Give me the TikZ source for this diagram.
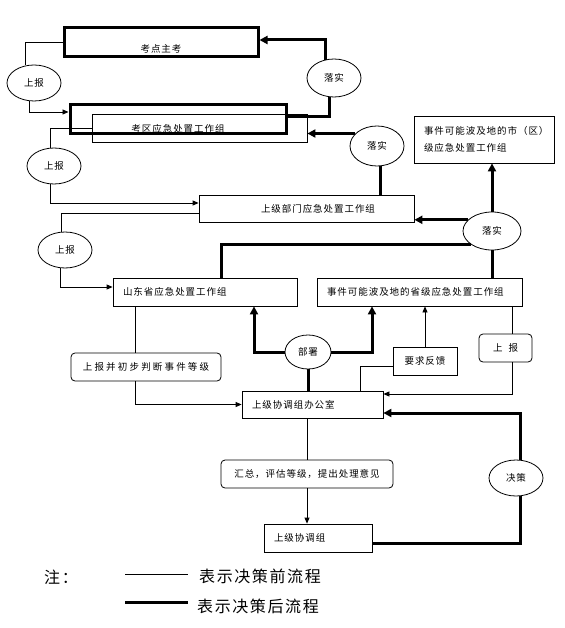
\documentclass[tikz,border=0pt]{standalone}
\usepackage{fontspec}
\newfontfamily\cjk{Noto Sans CJK SC}[LetterSpace=10]
\newfontfamily\cjkwide{Noto Sans CJK SC}[LetterSpace=23]
\usepackage{tikz}
\usetikzlibrary{arrows, arrows.meta}
\usetikzlibrary{shapes,calc}
\tikzstyle{thinline}=[line width=0.8pt]
\tikzstyle{thickline}=[line width=3pt]
\tikzstyle{thinarrow}=[thinline, arrows={-{Triangle[length=6pt,width=5pt]}}]
\tikzstyle{thickarrow}=[thickline, arrows={-{Triangle[length=8pt,width=8pt]}}]
\tikzstyle{plainbox}=[draw, thinline, rectangle, inner xsep=10pt, inner ysep=0pt, align=left, font=\cjk\fontsize{9.5}{11}\selectfont]
\tikzstyle{roundbox}=[plainbox, rounded corners=4pt, align=center]
\tikzstyle{thickbox}=[draw, thickline, rectangle, inner sep=0pt, font=\cjk\fontsize{9.5}{11}\selectfont]
\tikzstyle{oval}=[draw, thinline, ellipse, inner sep=0pt, minimum width=54pt, minimum height=36pt, font=\cjk\fontsize{9.5}{11}\selectfont]

\begin{document}
\begin{tikzpicture}[x=1pt, y=-1pt]
  \useasboundingbox (0,0) rectangle (564,628);

  %%%%%%%% top: exam level %%%%%%%%
  \node[thickbox, minimum width=194pt, text height=25pt, text depth=4pt] (kdzk) at (161,42.5) {考点主考};
  \node[thickbox, minimum width=216pt, text height=28pt, text depth=1pt] (kqzz) at (178,119.5) {考区应急处置工作组};
  \node[plainbox, minimum width=215pt, minimum height=28pt] (kqthin) at (199.5,128) {};

  \node[oval] (sb1) at (34,83) {上报};
  \node[oval] (sb2) at (54,166) {上报};
  \node[oval] (sb3) at (65,250) {上报};

  \node[oval, minimum height=38pt] (ls1) at (334,78) {落实};
  \node[oval, minimum height=40pt] (ls2) at (377,146) {落实};
  \node[oval, minimum width=58pt, minimum height=38pt] (ls3) at (492,231) {落实};

  \node[plainbox, text width=120pt, minimum height=47pt, font=\cjk\fontsize{9.5}{17}\selectfont] (shiqu) at (484,139.5) {事件可能波及地的市（区）\\级应急处置工作组};
  \node[plainbox, text width=195pt, minimum height=27pt] (sjbm) at (306.5,208.5) {\hspace*{52pt}上级部门应急处置工作组};

  %%%%%%%% province level %%%%%%%%
  \node[plainbox, text width=164pt, minimum height=28pt] (sds) at (205,292) {山东省应急处置工作组};
  \node[plainbox, text width=185pt, minimum height=28pt] (sj) at (419.5,292) {事件可能波及地的省级应急处置工作组};

  \node[roundbox, text width=130pt, minimum height=28pt, font=\cjkwide\fontsize{9.5}{11}\selectfont] (pd) at (146,367) {上报并初步判断事件等级};
  \node[oval, minimum width=46pt, minimum height=34pt] (bs) at (308,352) {部署};
  \node[plainbox, align=center, text width=44pt, minimum height=28pt] (fk) at (425,361) {要求反馈};
  \node[roundbox, text width=33pt, minimum height=28pt] (sb4) at (505.5,348) {上\hspace{6pt}报};

  %%%%%%%% coordination %%%%%%%%
  \node[plainbox, text width=121pt, minimum height=27pt] (bgs) at (312.5,404.5) {上级协调组办公室};
  \node[roundbox, text width=152pt, minimum height=28pt] (hz) at (307,474) {汇总，评估等级，提出处理意见};
  \node[plainbox, text width=88pt, minimum height=28pt] (xtz) at (318,538) {上级协调组};
  \node[oval] (jc) at (516,478) {决策};

  % before decision
  \draw[thinline] (kdzk.west) -| (sb1.115);
  \draw[thinarrow] (sb1.255) |- ([yshift=7.5pt]kqzz.west);
  \draw[thinline] (kqthin.west) -| (sb2.101);
  \draw[thinarrow] (sb2.259) |- ([yshift=5.5pt]sjbm.west);
  \draw[thinline] ([yshift=-4.5pt]sjbm.west) -| (sb3.101);
  \draw[thinarrow] (sb3.257) |- ([yshift=5pt]sds.west);
  \draw[thinline] ([xshift=-11pt]pd.north) -- ([xshift=-11pt]pd.north |- sds.south);
  \draw[thinarrow] ([xshift=-11pt]pd.south) |- (bgs.west);
  \draw[thinarrow] (fk.north) -- (fk.north |- sj.south);
  \draw[thinline] ([yshift=-5pt]fk.west) -| ([xshift=47.5pt]bgs.north);
  \draw[thinline] ([xshift=6.5pt]sb4.north) -- ([xshift=6.5pt]sb4.north |- sj.south);
  \draw[thinarrow] ([xshift=6.5pt]sb4.south) |- ([yshift=10.5pt]bgs.east);
  \draw[thinline] (hz.north) -- (hz.north |- bgs.south);
  \draw[thinarrow] (hz.south) -- (hz.south |- xtz.north);

  % after decision
  \draw[thickarrow] (ls1.116) |- ([yshift=2.5pt]kdzk.east);
  \draw[thickline] (ls1.257) |- ([yshift=2.5pt]kqzz.east);
  \draw[thickarrow] (ls2.150) -- (ls2.150 -| kqthin.east);
  \draw[thickline] (ls2.280) -- (ls2.280 |- sjbm.north);
  \draw[thickarrow] (ls3.north) -- (ls3.north |- shiqu.south);
  \draw[thickarrow] (ls3.155) -- (ls3.155 -| sjbm.east);
  \draw[thickline] (ls3.212) -| ([xshift=16pt]sds.north);
  \draw[thickline] (ls3.south) -- (ls3.south |- sj.north);
  \draw[thickline] (bs.south) -- (bs.south |- bgs.north);
  \draw[thickarrow] (bs.west) -| ([xshift=49pt]sds.south);
  \draw[thickarrow] (bs.east) -| ([xshift=-47.5pt]sj.south);
  \draw[thickarrow] (jc.75) |- ([yshift=-8.5pt]bgs.east);
  \draw[thickline] (jc.285) |- ([yshift=-5pt]xtz.east);

  %%%%%%%% legend %%%%%%%%
  \node[font=\cjk\fontsize{16}{18}\selectfont, inner sep=0pt] (zhu) at (61,577) {注：};
  \coordinate (q1) at (125,574);
  \coordinate (q2) at (188,574);
  \coordinate (h1) at (125,602);
  \coordinate (h2) at (188,602);
  \node[anchor=west, font=\cjk\fontsize{16}{18}\selectfont, inner sep=0pt] (qian) at (199,576) {表示决策前流程};
  \node[anchor=west, font=\cjk\fontsize{16}{18}\selectfont, inner sep=0pt] (hou) at (197,606) {表示决策后流程};
  \draw[thinline] (q1) -- (q2);
  \draw[thickline] (h1) -- (h2);
\end{tikzpicture}
\end{document}
